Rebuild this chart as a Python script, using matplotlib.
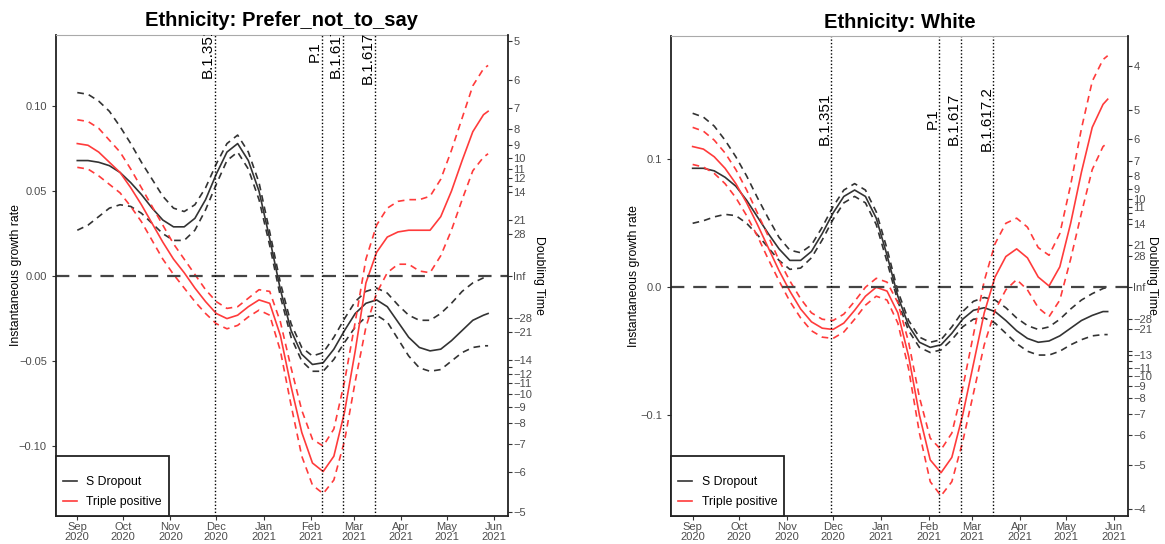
import numpy as np
import pandas as pd
import matplotlib
matplotlib.use('Agg')
import matplotlib.pyplot as plt
import matplotlib.dates as mdates

plt.rcParams['font.family'] = ['Liberation Sans', 'DejaVu Sans']

# weekly sampling from 1 Sep 2020, last point 28 May 2021
dates = list(pd.date_range('2020-09-01', '2021-05-25', freq='7D')) + [pd.Timestamp('2021-05-28')]

# Ethnicity: Prefer_not_to_say
pnts_sdrop = [0.068, 0.068, 0.067, 0.065, 0.061, 0.055, 0.048, 0.040, 0.033, 0.029,
              0.029, 0.034, 0.045, 0.060, 0.073, 0.078, 0.068, 0.050, 0.022, -0.008,
              -0.032, -0.046, -0.052, -0.051, -0.043, -0.032, -0.022, -0.016, -0.014, -0.018,
              -0.027, -0.036, -0.042, -0.044, -0.043, -0.038, -0.032, -0.026, -0.023, -0.022]
pnts_sdrop_hi = [0.108, 0.107, 0.103, 0.097, 0.088, 0.078, 0.067, 0.057, 0.047, 0.040,
                 0.038, 0.042, 0.052, 0.066, 0.078, 0.083, 0.073, 0.055, 0.026, -0.004,
                 -0.028, -0.042, -0.047, -0.045, -0.036, -0.025, -0.015, -0.009, -0.007, -0.010,
                 -0.017, -0.023, -0.026, -0.026, -0.022, -0.016, -0.009, -0.004, -0.001, 0.000]
pnts_sdrop_lo = [0.027, 0.030, 0.035, 0.040, 0.042, 0.041, 0.037, 0.031, 0.025, 0.021,
                 0.021, 0.027, 0.039, 0.054, 0.068, 0.073, 0.063, 0.045, 0.018, -0.012,
                 -0.036, -0.050, -0.056, -0.056, -0.049, -0.039, -0.030, -0.024, -0.023, -0.027,
                 -0.037, -0.047, -0.054, -0.056, -0.055, -0.050, -0.045, -0.042, -0.041, -0.041]
pnts_trip = [0.078, 0.077, 0.073, 0.067, 0.061, 0.052, 0.042, 0.031, 0.020, 0.010,
             0.002, -0.007, -0.015, -0.022, -0.025, -0.023, -0.018, -0.014, -0.016, -0.035,
             -0.065, -0.092, -0.110, -0.115, -0.106, -0.080, -0.044, -0.004, 0.014, 0.023,
             0.026, 0.027, 0.027, 0.027, 0.035, 0.050, 0.068, 0.085, 0.095, 0.097]
pnts_trip_hi = [0.092, 0.091, 0.087, 0.080, 0.073, 0.063, 0.052, 0.041, 0.030, 0.019,
                0.010, 0.001, -0.008, -0.015, -0.019, -0.018, -0.013, -0.008, -0.009, -0.027,
                -0.054, -0.079, -0.096, -0.100, -0.090, -0.062, -0.027, 0.010, 0.030, 0.040,
                0.044, 0.045, 0.045, 0.047, 0.057, 0.074, 0.093, 0.112, 0.122, 0.124]
pnts_trip_lo = [0.064, 0.063, 0.059, 0.054, 0.049, 0.041, 0.032, 0.021, 0.010, 0.001,
                -0.007, -0.015, -0.022, -0.028, -0.031, -0.029, -0.024, -0.020, -0.023, -0.044,
                -0.076, -0.106, -0.123, -0.128, -0.120, -0.097, -0.062, -0.030, -0.010, 0.002,
                0.007, 0.007, 0.003, 0.002, 0.012, 0.027, 0.045, 0.062, 0.070, 0.072]

# Ethnicity: White
white_sdrop = [0.093, 0.093, 0.091, 0.086, 0.079, 0.068, 0.055, 0.042, 0.030, 0.021,
               0.021, 0.028, 0.042, 0.058, 0.071, 0.076, 0.071, 0.054, 0.025, -0.007,
               -0.030, -0.043, -0.047, -0.045, -0.036, -0.025, -0.018, -0.016, -0.019, -0.026,
               -0.034, -0.040, -0.043, -0.042, -0.038, -0.032, -0.026, -0.022, -0.019, -0.019]
white_sdrop_hi = [0.136, 0.133, 0.126, 0.115, 0.102, 0.087, 0.070, 0.054, 0.039, 0.029,
                  0.027, 0.033, 0.047, 0.063, 0.076, 0.081, 0.076, 0.059, 0.030, -0.003,
                  -0.026, -0.039, -0.043, -0.041, -0.031, -0.019, -0.011, -0.008, -0.010, -0.016,
                  -0.024, -0.030, -0.033, -0.031, -0.025, -0.017, -0.010, -0.005, -0.001, 0.000]
white_sdrop_lo = [0.050, 0.052, 0.055, 0.057, 0.056, 0.050, 0.041, 0.031, 0.021, 0.014,
                  0.015, 0.023, 0.037, 0.053, 0.066, 0.071, 0.066, 0.049, 0.020, -0.011,
                  -0.034, -0.047, -0.051, -0.049, -0.041, -0.031, -0.025, -0.024, -0.028, -0.036,
                  -0.044, -0.050, -0.053, -0.053, -0.050, -0.045, -0.041, -0.038, -0.037, -0.037]
white_trip = [0.110, 0.108, 0.102, 0.093, 0.081, 0.066, 0.049, 0.031, 0.013, -0.003,
              -0.017, -0.027, -0.032, -0.033, -0.028, -0.018, -0.007, 0.000, -0.003, -0.020,
              -0.054, -0.100, -0.135, -0.145, -0.133, -0.100, -0.060, -0.020, 0.008, 0.024,
              0.030, 0.023, 0.008, 0.001, 0.016, 0.050, 0.090, 0.125, 0.143, 0.147]
white_trip_hi = [0.125, 0.122, 0.115, 0.105, 0.092, 0.076, 0.058, 0.040, 0.021, 0.005,
                 -0.009, -0.020, -0.025, -0.026, -0.021, -0.011, 0.000, 0.007, 0.004, -0.012,
                 -0.043, -0.086, -0.118, -0.127, -0.114, -0.079, -0.037, 0.005, 0.034, 0.050,
                 0.054, 0.047, 0.031, 0.025, 0.042, 0.080, 0.124, 0.161, 0.178, 0.181]
white_trip_lo = [0.096, 0.094, 0.089, 0.081, 0.070, 0.056, 0.040, 0.022, 0.005, -0.011,
                 -0.024, -0.034, -0.039, -0.040, -0.035, -0.025, -0.014, -0.007, -0.010, -0.028,
                 -0.064, -0.114, -0.152, -0.163, -0.152, -0.121, -0.083, -0.045, -0.018, -0.002,
                 0.006, -0.002, -0.016, -0.023, -0.010, 0.022, 0.058, 0.092, 0.110, 0.113]

variants = ['B.1.351', 'P.1', 'B.1.617', 'B.1.617.2']
variant_dates = pd.to_datetime(['2020-11-30', '2021-02-08', '2021-02-22', '2021-03-15'])

dbl_left = [5, 6, 7, 8, 9, 10, 11, 12, 13, 14, 21, 28, -28, -21, -14, -13, -12, -11, -10, -9, -8, -7, -6, -5]
dbl_right = [4, 5, 6, 7, 8, 9, 10, 11, 12, 13, 14, 21, 28, -28, -21, -14, -13, -12, -11, -10, -9, -8, -7, -6, -5, -4]
hide_left = [13, -13]
hide_right = [12, 13, -14, -12]

BLACK = '#333333'
RED = '#ff3b3b'
DASH = (0, (4, 3))

fig = plt.figure(figsize=(11.65, 5.44), dpi=100)


def panel(pos, title, s, s_hi, s_lo, t, t_hi, t_lo, ylim, yticks, ylabels, dbl, hide, ypad, dpad):
    ax = fig.add_axes(pos)
    ax.plot(dates, s, color=BLACK, lw=1.2, label='S Dropout')
    ax.plot(dates, s_hi, color=BLACK, lw=1.2, ls=DASH)
    ax.plot(dates, s_lo, color=BLACK, lw=1.2, ls=DASH)
    ax.plot(dates, t, color=RED, lw=1.2, label='Triple positive')
    ax.plot(dates, t_hi, color=RED, lw=1.2, ls=DASH)
    ax.plot(dates, t_lo, color=RED, lw=1.2, ls=DASH)
    ax.axhline(0, color='#444444', lw=1.6, ls=(0, (6, 4)))
    for v, d in zip(variants, variant_dates):
        ax.axvline(d, color='black', lw=1.0, ls=(0, (1, 1.5)))
        txt = ax.text(d, 0.132, v, rotation=90, ha='right', va='center', fontsize=11)
        txt.set_clip_box(ax.bbox)
        txt.set_clip_on(True)
    ax.set_ylim(*ylim)
    ax.set_xlim(pd.Timestamp('2020-08-18'), pd.Timestamp('2021-06-10'))
    ax.xaxis.set_major_locator(mdates.MonthLocator())
    ax.xaxis.set_major_formatter(mdates.DateFormatter('%b\n%Y'))
    ax.set_yticks(yticks)
    ax.set_yticklabels(ylabels)
    ax.tick_params(labelsize=8, labelcolor='#4d4d4d', color='#333333', length=3)
    ax.tick_params(axis='x', pad=1.5)
    for lbl in ax.get_xticklabels():
        lbl.set_linespacing(0.95)
    ax.set_ylabel('Instantaneous growth rate', fontsize=8.8, labelpad=ypad)
    ax.set_title(title, fontsize=14.5, fontweight='bold', pad=6)
    for side in ['left', 'bottom']:
        ax.spines[side].set_color('#222222')
        ax.spines[side].set_linewidth(1.3)
    ax.spines['top'].set_color('#aaaaaa')
    ax.spines['right'].set_visible(False)
    leg = ax.legend(loc='lower left', fontsize=8.8, frameon=True, fancybox=False,
                    edgecolor='#222222', framealpha=1, borderaxespad=0, borderpad=0.6,
                    handlelength=1.1, handletextpad=0.8, labelspacing=0.65,
                    title=' ', title_fontsize=3.5)
    leg.get_frame().set_linewidth(1.3)

    ax2 = ax.twinx()
    ax2.set_ylim(*ylim)
    ticks = [np.log(2) / d for d in dbl] + [0.0]
    labels = ['' if d in hide else str(d).replace('-', '\u2212') for d in dbl] + ['Inf']
    ax2.set_yticks(ticks)
    ax2.set_yticklabels(labels)
    ax2.tick_params(labelsize=8, labelcolor='#4d4d4d', color='#333333', length=3, pad=1)
    ax2.set_ylabel('Doubling Time', fontsize=8.8, rotation=270, labelpad=dpad)
    ax2.spines['right'].set_color('#222222')
    ax2.spines['right'].set_linewidth(1.3)
    for side in ['left', 'top', 'bottom']:
        ax2.spines[side].set_visible(False)
    return ax


panel([0.048, 0.052, 0.388, 0.884], 'Ethnicity: Prefer_not_to_say',
      pnts_sdrop, pnts_sdrop_hi, pnts_sdrop_lo, pnts_trip, pnts_trip_hi, pnts_trip_lo,
      (-0.141, 0.142), [-0.10, -0.05, 0.00, 0.05, 0.10], ['\u22120.10', '\u22120.05', '0.00', '0.05', '0.10'],
      dbl_left, hide_left, -2, 9)

panel([0.576, 0.052, 0.392, 0.882], 'Ethnicity: White',
      white_sdrop, white_sdrop_hi, white_sdrop_lo, white_trip, white_trip_hi, white_trip_lo,
      (-0.1786, 0.1965), [-0.1, 0.0, 0.1], ['\u22120.1', '0.0', '0.1'],
      dbl_right, hide_right, 0, 4)

fig.savefig('out.png', dpi=100)
